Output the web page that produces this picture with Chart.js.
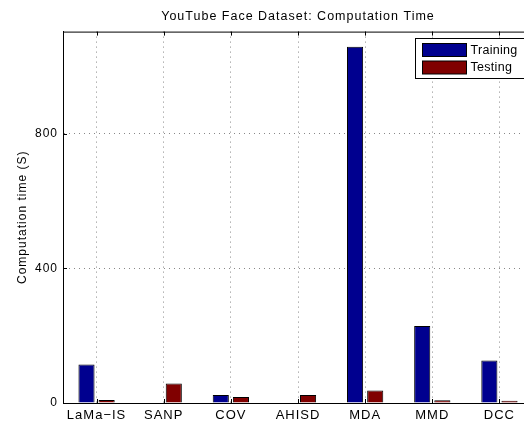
<!DOCTYPE html>
<html>
<head>
<meta charset="utf-8">
<script src="https://cdn.jsdelivr.net/npm/chart.js@4/dist/chart.umd.min.js"></script>
<style>
    html, body { margin: 0; padding: 0; background: #fff; overflow: hidden; }
    #wrap { width: 533px; height: 425px; }
</style>
</head>
<body>
<div id="wrap"><canvas id="myChart" width="533" height="425"></canvas></div>
<script>
const categories = ['LaMa\u2212IS', 'SANP', 'COV', 'AHISD', 'MDA', 'MMD', 'DCC'];
const trainingTime = [114, 0, 24, 0, 1058, 229, 126];
const testingTime = [9, 58, 18, 24, 37, 8, 7];
const yTicks = [0, 400, 800];
const seriesNames = ['Training', 'Testing'];

const FONT = '"Liberation Sans", Arial, Helvetica, sans-serif';

// matlab text is a bit wider spaced
const spacing = {
    id: 'spacing',
    beforeDraw(chart) {
        if ('letterSpacing' in chart.ctx) chart.ctx.letterSpacing = '1px';
    }
};

// matlab style frame: top border + inward tick marks, and the legend box
const matlabFrame = {
    id: 'matlabFrame',
    afterDraw(chart) {
        const ctx = chart.ctx;
        const a = chart.chartArea;
        const xs = chart.scales.x;
        const ys = chart.scales.y;
        ctx.save();
        ctx.strokeStyle = '#000';
        ctx.lineWidth = 1;
        ctx.beginPath();
        ctx.moveTo(a.left, a.top + 0.5);
        ctx.lineTo(a.right, a.top + 0.5);
        ctx.stroke();
        ctx.beginPath();
        for (let i = 0; i < categories.length; i++) {
            const x = Math.round(xs.getPixelForValue(i)) + 0.5;
            ctx.moveTo(x, a.bottom); ctx.lineTo(x, a.bottom - 4);
            ctx.moveTo(x, a.top); ctx.lineTo(x, a.top + 4);
        }
        yTicks.forEach(v => {
            const y = Math.round(ys.getPixelForValue(v)) + 0.5;
            ctx.moveTo(a.left, y); ctx.lineTo(a.left + 4, y);
        });
        ctx.stroke();

        // legend
        const lx = 415.5, ly = 38.5, lw = 130, lh = 40;
        ctx.fillStyle = '#fff';
        ctx.fillRect(lx, ly, lw, lh);
        ctx.strokeRect(lx, ly, lw, lh);
        if ('letterSpacing' in ctx) ctx.letterSpacing = '0.3px';
        chart.data.datasets.forEach((ds, i) => {
            const sy = 43.5 + i * 17.5;
            ctx.fillStyle = ds.backgroundColor;
            ctx.fillRect(422.5, sy, 44, 13);
            ctx.strokeRect(422.5, sy, 44, 13);
            ctx.fillStyle = '#000';
            ctx.font = '12.5px ' + FONT;
            ctx.textBaseline = 'middle';
            ctx.textAlign = 'left';
            ctx.fillText(ds.label, 470.5, sy + 7);
        });
        ctx.restore();
    }
};

const ctx = document.getElementById('myChart').getContext('2d');
new Chart(ctx, {
    type: 'bar',
    data: {
        labels: categories,
        datasets: [{
            label: seriesNames[0],
            data: trainingTime,
            backgroundColor: '#00008F',
            borderColor: '#000',
            borderWidth: 1,
            categoryPercentage: 0.6,
            barPercentage: 0.8
        }, {
            label: seriesNames[1],
            data: testingTime,
            backgroundColor: '#800000',
            borderColor: '#000',
            borderWidth: 1,
            categoryPercentage: 0.6,
            barPercentage: 0.8
        }]
    },
    options: {
        responsive: false,
        animation: false,
        layout: { padding: 0 },
        scales: {
            x: {
                offset: true,
                grid: {
                    offset: false,
                    color: '#888',
                    lineWidth: 1,
                    drawTicks: false
                },
                border: { display: true, color: '#000', width: 1, dash: [1, 4] },
                ticks: { color: '#000', font: { family: FONT, size: 13 }, padding: 5, maxRotation: 0 },
                afterFit(scale) { scale.height = 22; }
            },
            y: {
                min: 0,
                max: 1103,
                afterBuildTicks(scale) { scale.ticks = yTicks.map(v => ({ value: v })); },
                grid: {
                    color: '#888',
                    lineWidth: 1,
                    drawTicks: false
                },
                border: { display: true, color: '#000', width: 1, dash: [1, 4] },
                ticks: { color: '#000', font: { family: FONT, size: 12 }, padding: 5 },
                title: {
                    display: true,
                    text: 'Computation time (S)',
                    color: '#000',
                    font: { family: FONT, size: 12 },
                    padding: { top: 15, bottom: 0 }
                },
                afterFit(scale) { scale.width = 63; }
            }
        },
        plugins: {
            legend: { display: false },
            tooltip: { enabled: false },
            title: {
                display: true,
                fullSize: false,
                text: 'YouTube Face Dataset: Computation Time',
                color: '#000',
                font: { family: FONT, size: 12.5, weight: 'normal' },
                padding: { top: 9, bottom: 7.6 }
            }
        }
    },
    plugins: [spacing, matlabFrame]
});
</script>
</body>
</html>
